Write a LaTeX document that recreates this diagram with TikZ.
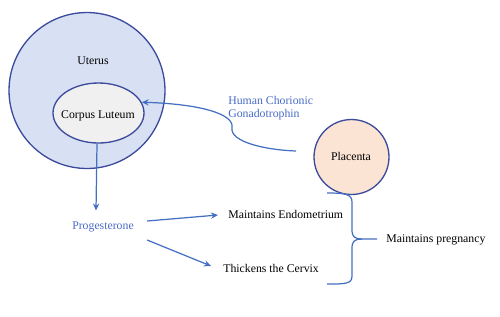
\documentclass[tikz,border=0pt]{standalone}
\usepackage{fontspec}
\setmainfont{Liberation Serif}
\usetikzlibrary{shapes.geometric,arrows.meta,calc}
\definecolor{ublue}{HTML}{D8E0F3}
\definecolor{dblue}{HTML}{3C4A9C}
\definecolor{lblue}{HTML}{4470C4}
\definecolor{tblue}{HTML}{4A6CC8}
\definecolor{peach}{HTML}{FBE4D4}
\definecolor{lgray}{HTML}{F0F0F0}
\tikzset{
  txt/.style={inner sep=0pt, font=\fontsize{6.7}{7.4}\selectfont},
  btxt/.style={txt, text=tblue},
  conn/.style={draw=lblue, line width=0.7pt},
  arr/.style={conn, -{Stealth[length=4pt,width=3.6pt]}},
  organ/.style={draw=dblue, line width=0.75pt, inner sep=0pt}
}
\begin{document}
\begin{tikzpicture}[x=0.02cm,y=-0.02cm]
\useasboundingbox[fill=white] (0,0) rectangle (500,316);
\node[organ, circle, fill=ublue, minimum size=3.12cm] (ut) at (87,90.5) {};
\node[txt] (utl) at (93,61) {Uterus};
\node[organ, ellipse, fill=lgray, minimum width=1.82cm, minimum height=1.2cm] (cl) at (98.5,113) {};
\node[txt] (cll) at (98,116) {Corpus Luteum};
\node[organ, circle, fill=peach, minimum size=1.5cm] (pla) at (351.5,157) {};
\node[txt] (plal) at (351,156) {Placenta};
\node[btxt, anchor=west, align=left] (hcg) at (228,108.5) {Human Chorionic\\Gonadotrophin};
\node[btxt] (prog) at (103,227) {Progesterone};
\node[txt, anchor=west] (me) at (228,214) {Maintains Endometrium};
\node[txt, anchor=west] (th) at (223,268) {Thickens the Cervix};
\node[txt, anchor=west] (mp) at (386,240) {Maintains pregnancy};
\coordinate (hs) at (296,151);
\coordinate (bt) at (327,193);
\coordinate (bb) at (327,284);
\coordinate (btip) at (377,239);
% hCG curve
\draw[arr] (hs) .. controls (266,150) and (230,142) .. (232,128)
  .. controls (235,114) and (200,104) .. (cl.14);
% corpus luteum to progesterone
\draw[arr] (cl.south -| 97,0) -- ($(prog.north -| 96,0)+(0,-11)$);
% progesterone effects
\draw[arr] ($(prog.east)+(13,-6)$) -- ($(me.west)+(-10,1)$);
\draw[arr] ($(prog.east)+(13,13)$) -- ($(th.west)+(-12,-2)$);
% brace
\draw[conn] (bt) .. controls (345,193) and (352,194) .. (352,202) -- (352,230)
  .. controls (352,237) and (355,239) .. (362,239) -- (btip);
\draw[conn] (362,239) .. controls (355,239) and (352,241) .. (352,248) -- (352,276)
  .. controls (352,284) and (345,284) .. (bb);
\end{tikzpicture}
\end{document}
